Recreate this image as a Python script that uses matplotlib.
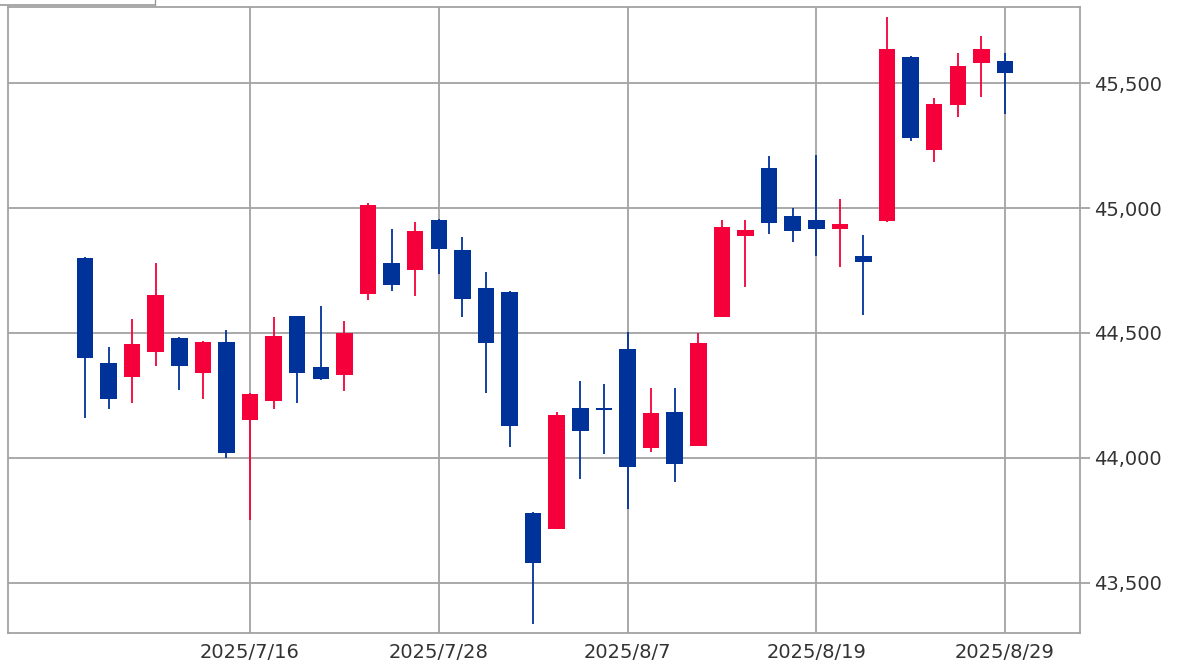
import matplotlib.pyplot as plt
import matplotlib.ticker as mticker
from matplotlib.lines import Line2D
import numpy as np

# trading days shown on the chart
dates = ["2025/7/7", "2025/7/8", "2025/7/9", "2025/7/10", "2025/7/11",
         "2025/7/14", "2025/7/15", "2025/7/16", "2025/7/17", "2025/7/18",
         "2025/7/21", "2025/7/22", "2025/7/23", "2025/7/24", "2025/7/25",
         "2025/7/28", "2025/7/29", "2025/7/30", "2025/7/31", "2025/8/1",
         "2025/8/4", "2025/8/5", "2025/8/6", "2025/8/7", "2025/8/8",
         "2025/8/11", "2025/8/12", "2025/8/13", "2025/8/14", "2025/8/15",
         "2025/8/18", "2025/8/19", "2025/8/20", "2025/8/21", "2025/8/22",
         "2025/8/25", "2025/8/26", "2025/8/27", "2025/8/28", "2025/8/29"]

opens = [44802, 44381, 44325, 44423, 44479, 44339, 44463, 44151, 44228, 44568,
         44365, 44332, 44655, 44780, 44752, 44952, 44832, 44681, 44665, 43780,
         43716, 44201, 44195, 44435, 44038, 44185, 44049, 44565, 44888, 45162,
         44969, 44952, 44916, 44810, 44950, 45607, 45233, 45413, 45580, 45590]
highs = [44805, 44443, 44555, 44779, 44482, 44469, 44512, 44258, 44563, 44570,
         44608, 44548, 45019, 44915, 44946, 44955, 44886, 44743, 44667, 43782,
         44182, 44309, 44294, 44505, 44278, 44278, 44501, 44952, 44952, 45209,
         44999, 45213, 45035, 44892, 45767, 45609, 45440, 45623, 45691, 45620]
lows = [44158, 44196, 44218, 44369, 44272, 44234, 43998, 43751, 44196, 44221,
        44312, 44269, 44632, 44669, 44648, 44736, 44565, 44258, 44045, 43334,
        43714, 43915, 44015, 43794, 44025, 43904, 44047, 44563, 44685, 44895,
        44863, 44808, 44765, 44572, 44946, 45270, 45186, 45366, 45444, 45377]
closes = [44401, 44234, 44456, 44652, 44369, 44463, 44018, 44254, 44488, 44341,
          44316, 44501, 45013, 44692, 44908, 44836, 44635, 44459, 44129, 43580,
          44172, 44107, 44192, 43964, 44178, 43974, 44459, 44923, 44912, 44939,
          44910, 44918, 44936, 44783, 45636, 45280, 45417, 45569, 45636, 45542]

shown_dates = ["2025/7/16", "2025/7/28", "2025/8/7", "2025/8/19", "2025/8/29"]

up_color = "#f5003a"
down_color = "#003399"
grid_color = "#a3a3a3"

o = np.array(opens)
h = np.array(highs)
l = np.array(lows)
c = np.array(closes)
x = np.arange(len(dates))
up = c >= o
cols = np.where(up, up_color, down_color)

fig = plt.figure(figsize=(11.89, 6.64), dpi=100)
ax = fig.add_axes([8 / 1189, 1 - 633 / 664, 1072 / 1189, 626 / 664])

ax.vlines(x, l, h, colors=cols, linewidth=1.3, zorder=3)
body_bottom = np.minimum(o, c)
body_height = np.maximum(np.abs(c - o), 6)
ax.bar(x, body_height, bottom=body_bottom, width=0.7, color=cols, zorder=4)

ax.set_xlim(-3.26, 42.18)
ax.set_ylim(43298, 45806)

ax.set_xticks([dates.index(d) for d in shown_dates])
ax.set_xticklabels(shown_dates)
ax.set_yticks([43500, 44000, 44500, 45000, 45500])
ax.yaxis.set_major_formatter(mticker.FuncFormatter(lambda v, p: f"{v:,.0f}"))
ax.yaxis.tick_right()

ax.grid(True, color=grid_color, linewidth=1.3, zorder=0)
ax.set_axisbelow(True)
for s in ax.spines.values():
    s.set_color(grid_color)
    s.set_linewidth(1.3)

ax.tick_params(axis="x", length=0, pad=7, labelsize=14, labelcolor="#333333")
ax.tick_params(axis="y", length=7, width=1.3, color=grid_color, pad=3,
               labelsize=14, labelcolor="#333333")

# small tab border at the top left
fig.add_artist(Line2D([0, 155 / 1189], [1 - 5 / 664, 1 - 5 / 664],
                      color="#9a9a9a", linewidth=1.2))
fig.add_artist(Line2D([155 / 1189, 155 / 1189], [1 - 5 / 664, 1.0],
                      color="#9a9a9a", linewidth=1.0))

fig.savefig("out.png", dpi=100)
